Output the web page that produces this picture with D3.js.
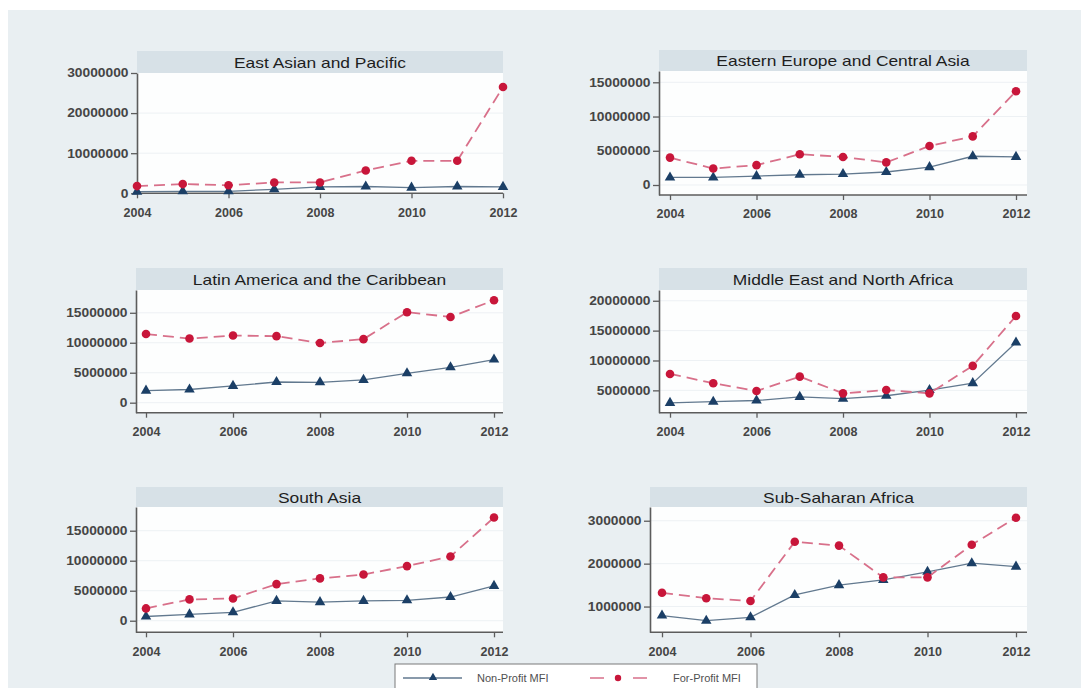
<!DOCTYPE html>
<html>
<head>
<meta charset="utf-8">
<script src="https://cdn.jsdelivr.net/npm/d3@7"></script>
<style>
  body { margin: 0; background: #fff; }
  svg { display: block; font-family: "Liberation Sans", Arial, sans-serif; }
</style>
</head>
<body>
<div id="chart"></div>
<script>
// years and x tick labels
const years = [2004, 2005, 2006, 2007, 2008, 2009, 2010, 2011, 2012];
const xTickYears = [2004, 2006, 2008, 2010, 2012];

const regionNames = [
  "East Asian and Pacific", "Eastern Europe and Central Asia",
  "Latin America and the Caribbean", "Middle East and North Africa",
  "South Asia", "Sub-Saharan Africa"
];

// values
const eapNonProfit = [400000, 500000, 500000, 1000000, 1600000, 1700000, 1400000, 1700000, 1600000];
const eapForProfit = [1800000, 2300000, 2000000, 2700000, 2700000, 5700000, 8100000, 8100000, 26500000];

const ecaNonProfit = [1100000, 1100000, 1300000, 1500000, 1600000, 1900000, 2600000, 4200000, 4100000];
const ecaForProfit = [4000000, 2400000, 2900000, 4500000, 4100000, 3300000, 5700000, 7100000, 13700000];

const lacNonProfit = [2000000, 2200000, 2800000, 3450000, 3400000, 3800000, 4900000, 5900000, 7200000];
const lacForProfit = [11450000, 10700000, 11200000, 11100000, 9950000, 10600000, 15100000, 14300000, 17100000];

const menaNonProfit = [2900000, 3100000, 3300000, 3900000, 3600000, 4100000, 5050000, 6200000, 13000000];
const menaForProfit = [7750000, 6200000, 4900000, 7300000, 4500000, 5050000, 4500000, 9100000, 17450000];

const saNonProfit = [700000, 1050000, 1400000, 3300000, 3100000, 3300000, 3400000, 3950000, 5800000];
const saForProfit = [2050000, 3550000, 3700000, 6100000, 7050000, 7700000, 9100000, 10700000, 17200000];

const ssaNonProfit = [790000, 670000, 750000, 1270000, 1500000, 1620000, 1810000, 2010000, 1930000];
const ssaForProfit = [1320000, 1195000, 1130000, 2510000, 2420000, 1680000, 1680000, 2440000, 3070000];

// y tick labels per panel
const eapTicks = [0, 10000000, 20000000, 30000000];
const ecaTicks = [0, 5000000, 10000000, 15000000];
const lacTicks = [0, 5000000, 10000000, 15000000];
const menaTicks = [5000000, 10000000, 15000000, 20000000];
const saTicks = [0, 5000000, 10000000, 15000000];
const ssaTicks = [1000000, 2000000, 3000000];

const seriesNames = ["Non-Profit MFI", "For-Profit MFI"];

// panel geometry (pixels) and visible y extent
const panels = [
  { name: regionNames[0], non: eapNonProfit, prof: eapForProfit, ticks: eapTicks,
    x0: 137, x1: 503, y0: 73, y1: 193.3, tt: 51, xa: 137, xb: 503, ylo: 0, yhi: 30000000 },
  { name: regionNames[1], non: ecaNonProfit, prof: ecaForProfit, ticks: ecaTicks,
    x0: 659, x1: 1027, y0: 71, y1: 195, tt: 50, xa: 670, xb: 1016, ylo: -1460000, yhi: 16650000 },
  { name: regionNames[2], non: lacNonProfit, prof: lacForProfit, ticks: lacTicks,
    x0: 136, x1: 503, y0: 290, y1: 412.7, tt: 268, xa: 146, xb: 494, ylo: -1670000, yhi: 18800000 },
  { name: regionNames[3], non: menaNonProfit, prof: menaForProfit, ticks: menaTicks,
    x0: 659, x1: 1027, y0: 290, y1: 412.7, tt: 268, xa: 670, xb: 1016, ylo: 1260000, yhi: 21800000 },
  { name: regionNames[4], non: saNonProfit, prof: saForProfit, ticks: saTicks,
    x0: 136, x1: 503, y0: 507, y1: 632.3, tt: 487, xa: 146, xb: 494, ylo: -1930000, yhi: 18950000 },
  { name: regionNames[5], non: ssaNonProfit, prof: ssaForProfit, ticks: ssaTicks,
    x0: 650, x1: 1027, y0: 507, y1: 632.3, tt: 487, xa: 662, xb: 1016, ylo: 400000, yhi: 3320000 }
];

const NAVY = "#1b3f66";
const NAVY_LINE = "#62798f";
const RED = "#c8163a";
const RED_LINE = "#d8708a";
const AXIS = "#5c5c5c";
const LABEL = "#454545";

const width = 1081, height = 688;

const svg = d3.select("#chart").append("svg")
  .attr("width", width)
  .attr("height", height);

// graph region background
svg.append("rect")
  .attr("x", 8).attr("y", 10)
  .attr("width", width - 8).attr("height", height - 10)
  .attr("fill", "#e9eff2");

const triangle = d3.symbol().type(d3.symbolTriangle).size(48);

panels.forEach(p => {
  const g = svg.append("g");

  const x = d3.scaleLinear().domain([2004, 2012]).range([p.xa, p.xb]);
  const y = d3.scaleLinear().domain([p.ylo, p.yhi]).range([p.y1, p.y0]);

  // title strip
  g.append("rect")
    .attr("x", p.x0).attr("y", p.tt)
    .attr("width", p.x1 - p.x0).attr("height", p.y0 - p.tt)
    .attr("fill", "#d7e1e7");
  g.append("text")
    .attr("transform", `translate(${(p.x0 + p.x1) / 2},${(p.tt + p.y0) / 2 + 5.5}) scale(1.16,1)`)
    .attr("text-anchor", "middle")
    .attr("font-size", 15)
    .attr("fill", "#1e1e1e")
    .text(p.name);

  // plot region
  g.append("rect")
    .attr("x", p.x0).attr("y", p.y0)
    .attr("width", p.x1 - p.x0).attr("height", p.y1 - p.y0)
    .attr("fill", "#fdfefe");

  // gridlines
  g.append("g")
    .selectAll("line")
    .data(p.ticks.filter(t => y(t) > p.y0 + 1 && y(t) < p.y1 - 1))
    .enter().append("line")
    .attr("x1", p.x0).attr("x2", p.x1)
    .attr("y1", d => y(d)).attr("y2", d => y(d))
    .attr("stroke", "#edf1f4")
    .attr("stroke-width", 1);

  // y axis
  const yAxis = g.append("g")
    .attr("transform", `translate(${p.x0},0)`)
    .call(d3.axisLeft(y).tickValues(p.ticks).tickSize(6).tickSizeOuter(0).tickFormat(d3.format("d")));
  yAxis.select(".domain").attr("stroke", AXIS).attr("stroke-width", 1.6);
  yAxis.selectAll(".tick line").attr("stroke", AXIS).attr("stroke-width", 1.3);
  yAxis.selectAll(".tick text")
    .attr("x", -8.5 / 1.15)
    .attr("transform", "scale(1.15,1)")
    .attr("font-size", 12)
    .attr("font-weight", "bold")
    .attr("font-family", "Liberation Sans, Arial, sans-serif")
    .attr("fill", LABEL);

  // x axis
  const xAxis = g.append("g")
    .attr("transform", `translate(0,${p.y1})`)
    .call(d3.axisBottom(x).tickValues(xTickYears).tickSize(5).tickFormat(d3.format("d")));
  xAxis.select(".domain").remove();
  xAxis.append("line")
    .attr("x1", p.x0).attr("x2", p.x1)
    .attr("stroke", AXIS).attr("stroke-width", 1.6);
  xAxis.selectAll(".tick line").attr("stroke", AXIS).attr("stroke-width", 1.3);
  xAxis.selectAll(".tick text")
    .attr("y", 14.5)
    .attr("font-size", 12.5)
    .attr("font-weight", "bold")
    .attr("font-family", "Liberation Sans, Arial, sans-serif")
    .attr("fill", LABEL);

  // non-profit series
  const nonData = years.map((yr, i) => ({ yr, v: p.non[i] }));
  const profData = years.map((yr, i) => ({ yr, v: p.prof[i] }));
  const line = d3.line().x(d => x(d.yr)).y(d => y(d.v));

  g.append("path")
    .datum(nonData)
    .attr("d", line)
    .attr("fill", "none")
    .attr("stroke", NAVY_LINE)
    .attr("stroke-width", 1.3);
  g.append("g")
    .selectAll("path")
    .data(nonData)
    .enter().append("path")
    .attr("d", triangle)
    .attr("transform", d => `translate(${x(d.yr)},${y(d.v)})`)
    .attr("fill", NAVY);

  // for-profit series
  g.append("path")
    .datum(profData)
    .attr("d", line)
    .attr("fill", "none")
    .attr("stroke", RED_LINE)
    .attr("stroke-width", 1.8)
    .attr("stroke-dasharray", "11,6");
  g.append("g")
    .selectAll("circle")
    .data(profData)
    .enter().append("circle")
    .attr("cx", d => x(d.yr))
    .attr("cy", d => y(d.v))
    .attr("r", 4.3)
    .attr("fill", RED);
});

// legend
const legend = svg.append("g");
legend.append("rect")
  .attr("x", 395).attr("y", 664)
  .attr("width", 362).attr("height", 40)
  .attr("fill", "#ffffff")
  .attr("stroke", "#7a7a7a")
  .attr("stroke-width", 1);

legend.append("line")
  .attr("x1", 403).attr("x2", 462).attr("y1", 678).attr("y2", 678)
  .attr("stroke", NAVY_LINE).attr("stroke-width", 1.3);
legend.append("path")
  .attr("d", d3.symbol().type(d3.symbolTriangle).size(30))
  .attr("transform", "translate(433,677.5)")
  .attr("fill", NAVY);
legend.append("text")
  .attr("x", 477).attr("y", 682)
  .attr("font-size", 11)
  .attr("fill", "#505050")
  .text(seriesNames[0]);

legend.append("line")
  .attr("x1", 590).attr("x2", 647).attr("y1", 678).attr("y2", 678)
  .attr("stroke", RED_LINE).attr("stroke-width", 1.6)
  .attr("stroke-dasharray", "14,29");
legend.append("circle")
  .attr("cx", 618).attr("cy", 678).attr("r", 3.2)
  .attr("fill", RED);
legend.append("text")
  .attr("x", 673).attr("y", 682)
  .attr("font-size", 11)
  .attr("fill", "#505050")
  .text(seriesNames[1]);
</script>
</body>
</html>
